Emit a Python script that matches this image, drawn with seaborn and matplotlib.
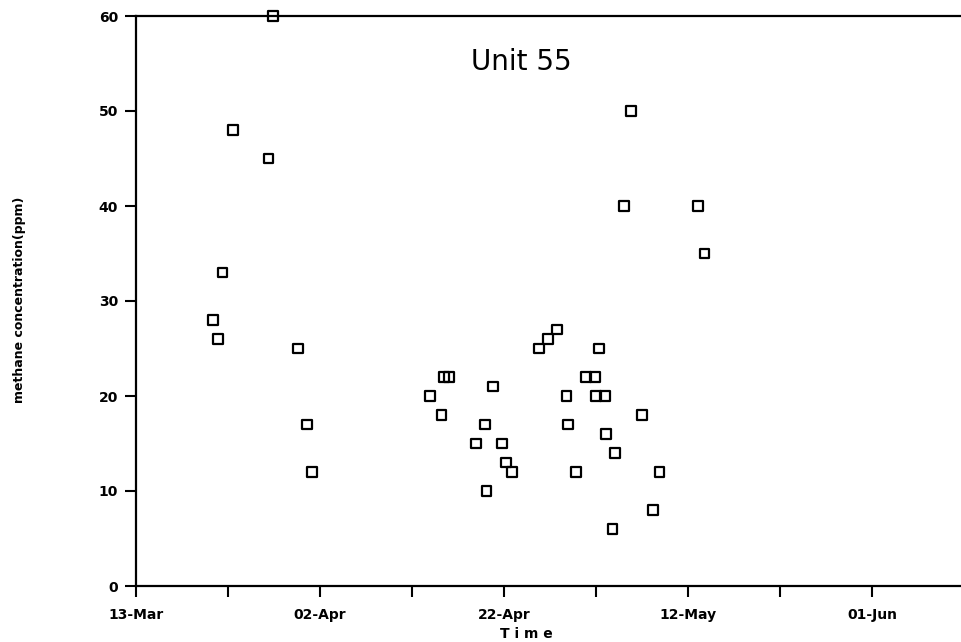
import pandas as pd
import numpy as np
import matplotlib
matplotlib.use('Agg')
import matplotlib.pyplot as plt
import matplotlib.dates as mdates
from matplotlib.ticker import FixedLocator, NullFormatter
import seaborn as sns

sns.set_style('white')
plt.rcParams['font.family'] = ['DejaVu Sans']
plt.rcParams['text.color'] = 'black'
plt.rcParams['xtick.color'] = 'black'
plt.rcParams['ytick.color'] = 'black'

# Dados (dias desde 13-Mar, metano em ppm)
start_date = '1990-03-13'
day_offset = [8.4, 8.9, 9.4, 10.5, 14.4, 14.9, 17.6, 18.6, 19.1,
              32.0, 33.2, 33.5, 34.0, 37.0, 37.9, 38.1, 38.8, 39.8, 40.2, 40.9,
              43.8, 44.8, 45.8, 46.8, 47.0, 47.8, 48.9, 49.9, 50.0, 50.3,
              51.0, 51.1, 51.8, 52.1, 53.0, 53.8, 55.0, 56.2, 56.9, 61.1, 61.8]
methane = [28, 26, 33, 48, 45, 60, 25, 17, 12,
           20, 18, 22, 22, 15, 17, 10, 21, 15, 13, 12,
           25, 26, 27, 20, 17, 12, 22, 22, 20, 25,
           20, 16, 6, 14, 40, 50, 18, 8, 12, 40, 35]
tick_dates = pd.date_range(start_date, periods=5, freq='20D')
minor_dates = pd.date_range(start_date, periods=10, freq='10D')

df = pd.DataFrame({
    'time': pd.Timestamp(start_date) + pd.to_timedelta(day_offset, unit='D'),
    'methane': methane,
})

fig = plt.figure(figsize=(9.61, 6.42), dpi=100)
ax = fig.add_axes([136 / 961, 56 / 642, 825 / 961, 570 / 642])

sns.scatterplot(data=df, x='time', y='methane', ax=ax, marker='s', s=50,
                facecolor='none', edgecolor='black', linewidth=1.6, zorder=3,
                clip_on=False)

x0 = mdates.date2num(pd.Timestamp(start_date))
ax.set_xlim(x0, x0 + 825 / 9.2)
ax.set_ylim(0, 60)

ax.xaxis.set_major_locator(FixedLocator(mdates.date2num(tick_dates)))
ax.xaxis.set_major_formatter(mdates.DateFormatter('%d-%b'))
ax.xaxis.set_minor_locator(FixedLocator(mdates.date2num(minor_dates)))
ax.xaxis.set_minor_formatter(NullFormatter())
ax.set_yticks(np.arange(0, 61, 10))

ax.tick_params(axis='both', which='both', direction='out', length=8, width=1.5,
               color='black', labelsize=10, pad=5, bottom=True, left=True)
ax.tick_params(axis='x', pad=8)
for lab in ax.get_xticklabels() + ax.get_yticklabels():
    lab.set_fontweight('bold')

for side in ['left', 'bottom', 'top']:
    ax.spines[side].set_color('black')
    ax.spines[side].set_linewidth(1.6)
ax.spines['right'].set_visible(False)

ax.set_xlabel('')
ax.set_ylabel('')
fig.text(20 / 961, 1 - 300 / 642, 'methane concentration(ppm)', rotation=90,
         ha='center', va='center', fontsize=9, fontweight='bold')
fig.text(526 / 961, 1 - 634 / 642, 'T i m e', ha='center', va='center',
         fontsize=10, fontweight='bold')
ax.text(0.467, 0.919, 'Unit 55', transform=ax.transAxes, ha='center',
        va='center', fontsize=20)

fig.savefig('out.png', dpi=100)
